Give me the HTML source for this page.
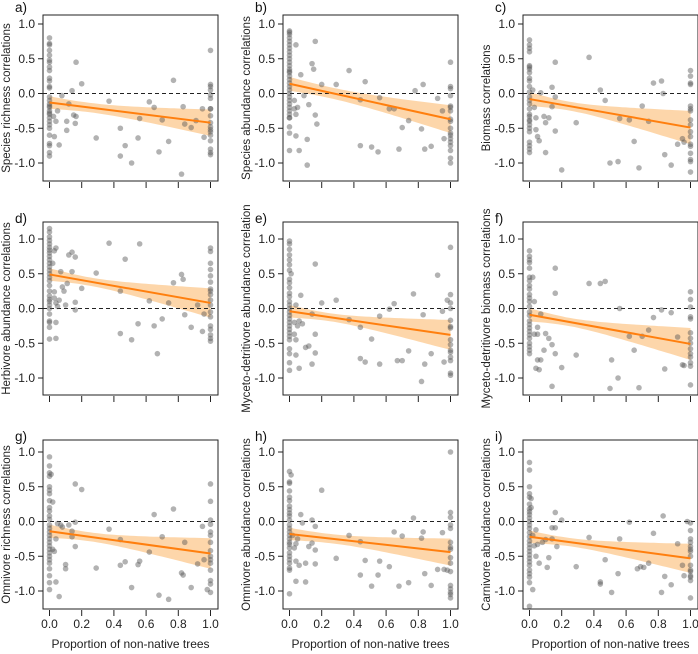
<!DOCTYPE html>
<html><head><meta charset="utf-8"><style>
html,body{margin:0;padding:0;background:#fff;}
svg{display:block;font-family:"Liberation Sans",Arial,sans-serif;}
</style></head><body>
<svg id="chart" width="698" height="654" viewBox="0 0 698 654"></svg>
<script>
// ---- data ----
const panelLabels=["a)","b)","c)","d)","e)","f)","g)","h)","i)"];
const yTitles=["Species richness correlations","Species abundance correlations","Biomass correlations","Herbivore abundance correlations","Myceto-detritivore abundance correlation","Myceto-detritivore biomass correlations","Omnivore richness correlations","Omnivore abundance correlations","Carnivore abundance correlations"];
const yTicks=[-1,-0.5,0,0.5,1];
const yTickLabels=["-1.0","-0.5","0.0","0.5","1.0"];
const xTicks=[0,0.2,0.4,0.6,0.8,1];
const xTickLabels=["0.0","0.2","0.4","0.6","0.8","1.0"];
const fitStart=[-0.13,0.14,-0.08,0.49,-0.04,-0.09,-0.14,-0.18,-0.22];
const fitEnd=[-0.42,-0.37,-0.49,0.08,-0.38,-0.51,-0.46,-0.44,-0.53];
const ciHalf0=[0.09,0.10,0.10,0.09,0.09,0.095,0.095,0.09,0.09];
const ciHalf1=[0.19,0.20,0.24,0.21,0.215,0.23,0.22,0.195,0.21];
const zeroYs=[
[0.8,0.72,0.62,0.55,0.48,0.45,0.38,0.33,0.22,0.18,0.1,0.08,-0.05,-0.1,-0.15,-0.2,-0.25,-0.3,-0.35,-0.4,-0.45,-0.5,-0.6,-0.72,-0.75,-0.85,-0.9,0.7,-0.28,-0.18],
[0.9,0.88,0.85,0.8,0.75,0.7,0.65,0.6,0.55,0.5,0.45,0.4,0.35,0.3,0.25,0.2,0.15,0.1,0.05,0,-0.05,-0.1,-0.15,-0.2,-0.25,-0.3,-0.35,-0.48,-0.57,-0.82,0.32,-0.35],
[0.77,0.7,0.65,0.6,0.4,0.35,0.3,0.22,0.18,0.1,0.02,-0.05,-0.1,-0.15,-0.22,-0.3,-0.33,-0.4,-0.45,-0.5,-0.55,-0.7,-0.75,-0.8,-0.85,0.38,-0.38],
[1.15,1.1,1.03,0.98,0.93,0.88,0.84,0.8,0.75,0.7,0.65,0.6,0.55,0.5,0.45,0.4,0.33,0.25,0.18,0.13,0.1,0.05,0,-0.08,-0.18,-0.2,-0.27,-0.44],
[0.97,0.93,0.85,0.77,0.7,0.63,0.55,0.42,0.37,0.3,0.22,0.17,0.1,0.05,0,-0.05,-0.1,-0.15,-0.2,-0.25,-0.3,-0.35,-0.4,-0.45,-0.58,-0.65,-0.78,-0.89],
[0.83,0.75,0.7,0.66,0.58,0.45,0.4,0.33,0.28,0.2,0.15,0.1,0.03,-0.05,-0.1,-0.18,-0.23,-0.28,-0.33,-0.38,-0.43,-0.5,-0.55,-0.6,-0.65],
[0.93,0.8,0.7,0.65,0.5,0.45,0.4,0.3,0.2,0.15,0.08,0.03,-0.05,-0.1,-0.15,-0.2,-0.25,-0.3,-0.35,-0.4,-0.45,-0.5,-0.55,-0.6,-0.68,-0.78,-0.88,-0.98],
[0.72,0.57,0.55,0.44,0.35,0.3,0.22,0.17,0.12,0.08,0.02,-0.05,-0.1,-0.15,-0.2,-0.25,-0.3,-0.33,-0.38,-0.45,-0.5,-0.55,-0.6,-0.67,-0.7,-1.04],
[0.85,0.74,0.5,0.4,0.35,0.25,0.18,0.14,0.1,0.05,0,-0.05,-0.1,-0.16,-0.22,-0.28,-0.33,-0.38,-0.43,-0.48,-0.53,-0.58,-0.63,-0.7,-0.75,-0.8,-0.88,-1.22]];
const oneYs=[
[0.62,0.13,0.1,0.05,-0.02,-0.07,-0.22,-0.32,-0.42,-0.48,-0.52,-0.55,-0.6,-0.68,-0.8,-0.85,-0.88,-0.22],
[0.45,0.1,0.07,-0.03,-0.18,-0.2,-0.25,-0.37,-0.4,-0.5,-0.57,-0.6,-0.65,-0.7,-0.75,-0.82,-0.93,-1.0],
[0.33,0.25,0.15,0.13,-0.18,-0.22,-0.25,-0.38,-0.45,-0.55,-0.62,-0.73,-0.76,-0.86,-0.95,-0.98,-1.13],
[0.87,0.82,0.65,0.56,0.47,0.38,0.28,0.25,0.2,0.12,0.05,-0.05,-0.12,-0.25,-0.3,-0.38,-0.43,-0.47],
[0.88,0.2,0.08,0,-0.17,-0.26,-0.28,-0.45,-0.52,-0.6,-0.63,-0.7,-0.75,-0.93,-0.96],
[0.24,0.13,0.02,-0.12,-0.15,-0.35,-0.43,-0.5,-0.58,-0.65,-0.7,-0.78,-0.83,-1.1],
[0.54,0.29,0.02,-0.04,-0.15,-0.3,-0.42,-0.5,-0.55,-0.6,-0.7,-0.85,-0.9,-1.02,-0.2],
[1.0,0.13,0.06,-0.05,-0.1,-0.3,-0.37,-0.4,-0.6,-0.72,-0.92,-0.97,-1.02,-1.05,-1.1,-0.52],
[-0.02,-0.13,-0.25,-0.3,-0.36,-0.43,-0.5,-0.63,-0.7,-0.72,-0.78,-0.8,-0.85,-1.1,-0.4]];
const midPts=[
[[.025,-0.33],[.03,-0.62],[.04,-0.4],[.05,-0.25],[.06,-0.74],[.077,-0.03],[.107,-0.4],[.107,-0.53],[.12,-0.15],[.14,0.04],[.15,-0.31],[.165,0.45],[.165,-0.33],[.16,-0.43],[.2,0.14],[.29,-0.64],[.37,-0.11],[.44,-0.9],[.44,-0.5],[.47,-0.75],[.51,-1.0],[.56,-0.36],[.55,-0.64],[.62,-0.12],[.65,-0.2],[.68,-0.84],[.7,-0.38],[.74,-0.69],[.77,0.19],[.82,-1.16],[.83,-0.19],[.84,-0.44],[.88,-0.49],[.91,-0.39],[.95,-0.22],[.96,-0.63]],
[[.04,0.7],[.16,0.75],[.03,-0.1],[.03,-0.22],[.04,-0.3],[.05,-0.2],[.04,-0.61],[.06,-0.82],[.07,0.27],[.09,-0.03],[.11,-0.66],[.11,-1.03],[.12,-0.16],[.14,0.43],[.15,0.35],[.16,-0.31],[.17,-0.44],[.2,0.13],[.29,0.13],[.37,0.33],[.44,-0.09],[.44,-0.75],[.47,0.17],[.51,-0.77],[.55,-0.84],[.56,-0.06],[.62,-0.22],[.65,-0.22],[.68,-0.8],[.7,-0.49],[.74,-0.39],[.78,0.04],[.82,-0.51],[.83,0.13],[.84,-0.8],[.88,-0.76],[.92,-0.07],[.95,-0.25],[.96,-0.65]],
[[.02,0.05],[.03,-0.2],[.04,-0.35],[.04,-0.52],[.05,-0.62],[.06,-0.68],[.07,0.01],[.09,-0.33],[.1,-0.42],[.1,-0.85],[.12,-0.35],[.14,-0.19],[.14,0.09],[.16,0.45],[.16,-0.05],[.16,-0.54],[.2,-1.1],[.29,-0.42],[.37,0.52],[.44,0.05],[.47,-0.1],[.5,-1.0],[.55,-0.98],[.56,-0.36],[.62,-0.38],[.65,-0.69],[.68,-1.07],[.7,-0.18],[.74,-0.4],[.77,0.15],[.82,0.18],[.83,0.0],[.84,-0.88],[.88,-1.03],[.92,-0.73],[.95,-0.65],[.96,-0.7]],
[[.02,0.65],[.03,0.83],[.04,0.87],[.03,0.24],[.03,0.15],[.04,0.08],[.04,-0.2],[.04,-0.43],[.05,0.03],[.06,0.12],[.07,0.53],[.08,0.31],[.09,0.25],[.1,0.05],[.11,0.36],[.12,0.77],[.14,0.81],[.14,0.53],[.16,0.74],[.16,0.09],[.16,-0.02],[.2,0.29],[.29,0.51],[.37,0.94],[.44,0.25],[.44,-0.36],[.47,0.71],[.51,-0.45],[.55,-0.22],[.56,0.93],[.62,0.11],[.65,-0.25],[.67,-0.65],[.7,-0.15],[.74,0.08],[.77,0.37],[.82,0.49],[.83,0.42],[.84,-0.09],[.88,-0.27],[.92,0.05],[.95,-0.33],[.96,-0.08]],
[[.01,0.5],[.03,-0.37],[.03,-0.2],[.04,0.05],[.04,-0.45],[.04,-0.67],[.05,-0.25],[.06,-0.18],[.06,-0.86],[.07,0.19],[.08,-0.22],[.1,-0.56],[.12,-0.54],[.14,-0.08],[.14,-0.8],[.16,0.64],[.16,-0.37],[.16,-0.64],[.2,0.08],[.29,0.12],[.37,-0.16],[.44,-0.27],[.44,-0.72],[.47,-0.77],[.51,-0.44],[.56,-0.8],[.56,-0.11],[.62,-0.01],[.65,0.07],[.67,-0.75],[.7,-0.75],[.74,-0.61],[.77,0.21],[.82,-1.05],[.83,-0.09],[.84,-0.8],[.88,-0.65],[.92,0.48],[.95,-0.04],[.96,-0.77],[.98,0.12]],
[[.02,0.45],[.03,0.1],[.03,-0.37],[.04,-0.86],[.05,-0.27],[.05,-0.37],[.05,-0.74],[.06,-0.88],[.07,-0.74],[.07,-0.08],[.09,-0.6],[.1,-0.36],[.12,-0.43],[.14,-0.52],[.14,-1.12],[.16,0.58],[.16,0.22],[.16,-0.65],[.2,-0.85],[.29,-0.67],[.37,0.36],[.44,0.36],[.47,0.39],[.5,-1.15],[.51,-0.74],[.55,-1.0],[.56,0.0],[.62,-0.4],[.65,-0.6],[.68,-1.14],[.7,-0.4],[.74,-0.31],[.77,-0.13],[.82,-0.02],[.84,-0.87],[.88,-0.06],[.92,-0.41],[.95,-0.81],[.96,-0.82]],
[[.01,0.68],[.02,0.28],[.02,-0.4],[.03,-0.43],[.04,-0.25],[.04,-0.87],[.05,-0.03],[.06,-1.08],[.07,-0.05],[.08,-0.08],[.1,-0.62],[.1,-0.68],[.12,-0.05],[.14,-0.14],[.14,-0.22],[.16,0.54],[.16,-0.36],[.16,-0.01],[.2,0.46],[.29,-0.67],[.37,-0.11],[.44,-0.26],[.44,-0.63],[.47,-0.58],[.51,-0.95],[.55,-0.62],[.56,-0.57],[.62,-0.44],[.65,0.1],[.68,-1.06],[.7,-0.22],[.74,-1.12],[.77,0.18],[.82,-0.74],[.83,-0.77],[.84,-0.3],[.88,-0.95],[.92,-0.61],[.95,-0.07],[.96,-0.55],[.98,-0.98]],
[[.01,0.67],[.02,-0.2],[.03,-0.38],[.04,-0.32],[.04,-0.57],[.04,-0.86],[.05,-0.25],[.06,-0.63],[.07,0.1],[.08,-0.02],[.1,-0.6],[.1,-0.87],[.12,-0.36],[.14,0.02],[.14,-0.31],[.16,-0.07],[.16,-0.41],[.16,-0.61],[.2,0.45],[.29,-0.53],[.37,-0.2],[.44,-0.29],[.44,-0.77],[.47,-0.56],[.51,-0.93],[.55,-0.77],[.56,-0.57],[.62,-0.65],[.65,-0.15],[.68,-0.93],[.7,-0.21],[.74,-0.88],[.77,0.05],[.82,-0.24],[.83,-0.15],[.84,-0.75],[.88,-0.92],[.92,-0.69],[.95,-0.16],[.96,-0.69],[.98,-0.7]],
[[.01,0.33],[.01,0.2],[.02,-0.2],[.02,-0.98],[.03,-0.35],[.04,-0.12],[.04,-0.5],[.05,-0.33],[.06,-0.6],[.08,-0.3],[.1,-0.26],[.11,-0.66],[.12,-0.52],[.14,-0.09],[.14,-0.25],[.16,0.13],[.16,-0.09],[.17,-0.36],[.2,0.02],[.29,-0.65],[.37,-0.23],[.44,-0.87],[.44,-0.9],[.47,-0.55],[.51,-1.02],[.55,-0.75],[.56,-0.25],[.62,-0.01],[.67,-0.68],[.69,-0.65],[.71,-0.66],[.74,-0.6],[.77,-0.17],[.82,-1.02],[.83,0.08],[.84,-0.79],[.88,-0.91],[.92,-0.32],[.95,-0.63],[.96,-0.78],[.98,0.0]]];

// ---- layout ----
const colLeft=[43,283,523], boxW=175;
const rowOne=[24,239,452], rowTop=[15,222,440], rowBot=[181,395,609];
const pxPerY=69.5, pxPerX=161;
const NS="http://www.w3.org/2000/svg";
const svg=document.getElementById('chart');
function mk(tag,attrs,parent){const e=document.createElementNS(NS,tag);for(const k in attrs)e.setAttribute(k,attrs[k]);(parent||svg).appendChild(e);return e;}

for(let p=0;p<9;p++){
  const r=Math.floor(p/3), c=p%3;
  const L=colLeft[c], T=rowTop[r], B=rowBot[r];
  const sx=v=>L+6.5+v*pxPerX;
  const sy=v=>rowOne[r]+(1-v)*pxPerY;
  const g=mk('g',{});
  
  
  const w0=ciHalf0[p], w1=ciHalf1[p];
  const Bq=(w1*w1-w0*w0)/0.5, Aq=Math.max(w0*w0-0.0625*Bq,0.0009);
  let up=[],lo=[];
  for(let i=0;i<=40;i++){const x=i/40;const m=fitStart[p]+(fitEnd[p]-fitStart[p])*x;const h=Math.sqrt(Aq+Bq*(x-0.25)*(x-0.25));up.push(sx(x).toFixed(1)+','+sy(m+h).toFixed(1));lo.unshift(sx(x).toFixed(1)+','+sy(m-h).toFixed(1));}
  const band=mk('polygon',{points:up.concat(lo).join(' '),fill:'#fdcf9b','fill-opacity':'0.85'},g);
  
  
  const zl=mk('line',{x1:L,x2:L+boxW,y1:sy(0),y2:sy(0),stroke:'#222','stroke-width':1,'stroke-dasharray':'4,3'},g);
  
  
  const pts=[];
  zeroYs[p].forEach(y=>pts.push([0,y]));
  oneYs[p].forEach(y=>pts.push([1,y]));
  midPts[p].forEach(q=>pts.push(q));
  pts.forEach(q=>{
    const ci=mk('circle',{cx:sx(q[0]),cy:sy(q[1]),r:2.8,fill:'#555','fill-opacity':'0.45'},g);
    
    
  });
  const fl=mk('line',{x1:sx(0),y1:sy(fitStart[p]),x2:sx(1),y2:sy(fitEnd[p]),stroke:'#ff7f0e','stroke-width':2},g);
  
  
  const bx=mk('rect',{x:L,y:T,width:boxW,height:B-T,fill:'none',stroke:'#222','stroke-width':1},g);
  
  
  yTicks.forEach((v,i)=>{
    const tk=mk('line',{x1:L-5,x2:L,y1:sy(v),y2:sy(v),stroke:'#222'},g);
    
    
    const t=mk('text',{x:L-8,y:sy(v)+4.2,'text-anchor':'end','font-size':12,fill:'#222'},g);
    t.textContent=yTickLabels[i];
    
    
  });
  xTicks.forEach((v,i)=>{
    const tk=mk('line',{x1:sx(v),x2:sx(v),y1:B+1,y2:B+7,stroke:'#222'},g);
    
    
    if(r===2){
      const t=mk('text',{x:sx(v),y:B+19,'text-anchor':'middle','font-size':12,fill:'#222'},g);
      t.textContent=xTickLabels[i];
      
      
    }
  });
  if(r===2){
    const xt=mk('text',{x:L+boxW/2,y:648,'text-anchor':'middle','font-size':12,fill:'#222'},g);
    xt.textContent='Proportion of non-native trees';
    
    
  }
  const cy=(T+B)/2, tx=L-33;
  const yt=mk('text',{x:tx,y:cy,'text-anchor':'middle','font-size':11.5,fill:'#222',transform:'rotate(-90 '+tx+' '+cy+')'},g);
  yt.textContent=yTitles[p];
  
  
  const pl=mk('text',{x:L-28,y:T-3+(r===0?0:4),'font-size':13.5,fill:'#111'},g);
  pl.textContent=panelLabels[p];
  
  
}
</script>
</body></html>
